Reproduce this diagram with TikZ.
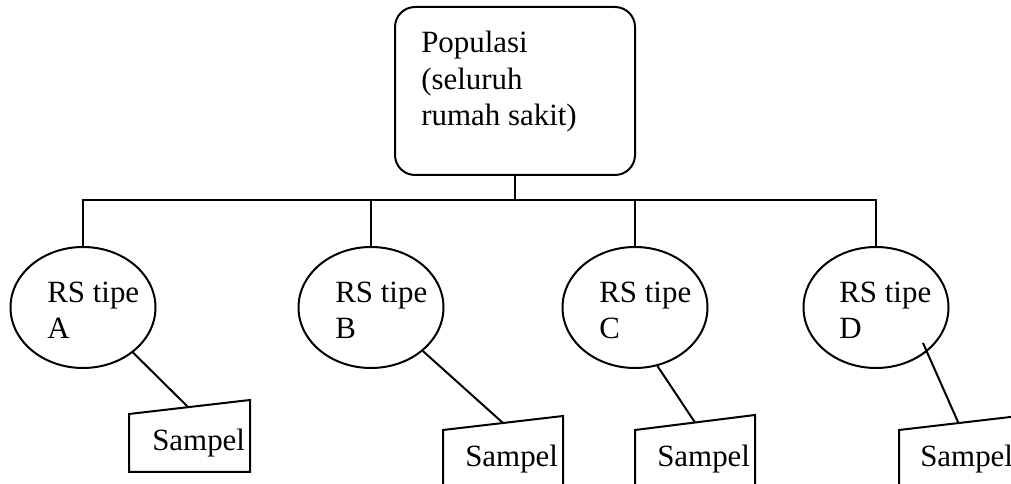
\documentclass[tikz,border=0pt]{standalone}
\usepackage{fontspec}
\setmainfont{Liberation Serif}
\usetikzlibrary{shapes.geometric}
\begin{document}
\begin{tikzpicture}[x=0.75pt,y=-0.75pt,
  lw/.style={line width=1.5pt},
  bubble/.style={ellipse, draw, lw, minimum width=108.75pt, minimum height=90.75pt, inner sep=0pt},
  txt/.style={anchor=base west, inner sep=0pt, font=\fontsize{23.2}{27}\selectfont},
  samplebox/.style={draw, lw},
  link/.style={lw}]
\useasboundingbox (0,0) rectangle (1011,484);
\clip (0,0) rectangle (1011,484);
% top box
\node[draw, lw, rounded corners=15pt, minimum width=180pt, minimum height=126pt, inner sep=0pt] (pop) at (515,91) {};
\node[txt] (pop1) at (421,53) {Populasi};
\node[txt] (pop2) at (421,89.5) {(seluruh};
\node[txt] (pop3) at (421,126) {rumah sakit)};
% ellipses
\node[bubble] (ea) at (83,307.5) {};
\node[bubble] (eb) at (371,307.5) {};
\node[bubble] (ec) at (635,307.5) {};
\node[bubble] (ed) at (876,307.5) {};
\node[txt] (ta1) at (47,303) {RS tipe};
\node[txt] (ta2) at (47,339) {A};
\node[txt] (tb1) at (335,303) {RS tipe};
\node[txt] (tb2) at (335,339) {B};
\node[txt] (tc1) at (599,303) {RS tipe};
\node[txt] (tc2) at (599,339) {C};
\node[txt] (td1) at (839,303) {RS tipe};
\node[txt] (td2) at (839,339) {D};
% tree connectors
\coordinate (h) at (515,200);
\draw[link] (pop.south) -- (h);
\foreach \e in {ea,eb,ec,ed} \draw[link] (\e.north) |- (h);
% sample boxes
\draw[samplebox, shift={(129,414)}] (0,0) -- (121,-14) -- (121,58) -- (0,58) -- cycle;
\draw[samplebox, shift={(443,430)}] (0,0) -- (120,-14) -- (120,58) -- (0,58) -- cycle;
\draw[samplebox, shift={(635,430)}] (0,0) -- (120,-15) -- (120,58) -- (0,58) -- cycle;
\draw[samplebox, shift={(899,430)}] (0,0) -- (120,-14) -- (120,58) -- (0,58) -- cycle;
\node[txt] (sa1) at (152,451) {Sampel};
\node[txt] (sb1) at (465,467) {Sampel};
\node[txt] (sc1) at (657,467) {Sampel};
\node[txt] (sd1) at (920,467) {Sampel};
% sample connectors
\coordinate (sa) at (188,407);
\coordinate (sb) at (503,423);
\coordinate (sc) at (695,422.5);
\coordinate (sd) at (958,422);
\coordinate (dd) at (923,343);
\draw[link] (ea.-42) -- (sa);
\draw[link] (eb.-40) -- (sb);
\draw[link] (ec.-69) -- (sc);
\draw[link] (dd) -- (sd);
\end{tikzpicture}
\end{document}
